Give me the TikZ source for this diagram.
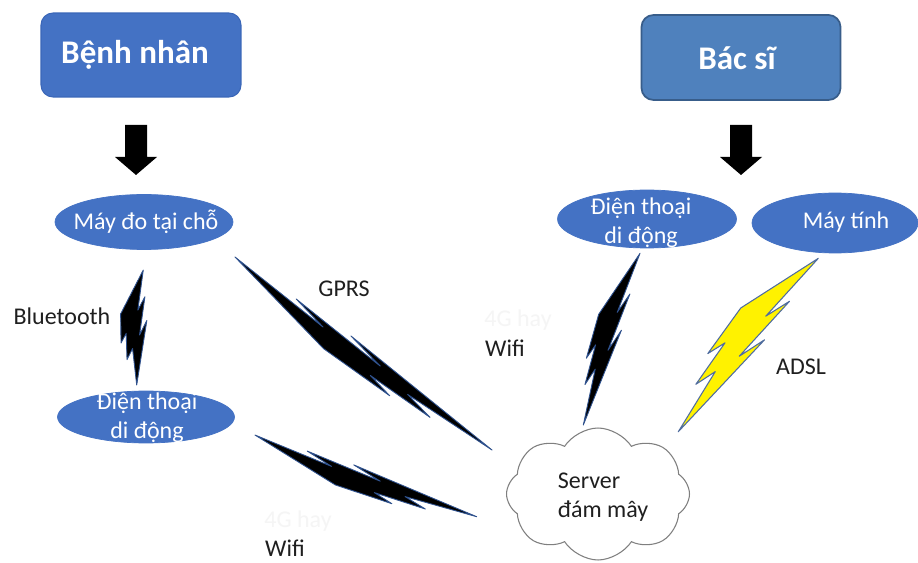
\documentclass[tikz,border=0pt]{standalone}
\usepackage{fontspec}
\setmainfont{Carlito}
\usetikzlibrary{shapes.geometric,shapes.symbols,calc}
\definecolor{accent}{HTML}{4472C4}
\definecolor{accentline}{HTML}{3A66B8}
\definecolor{accenttwo}{HTML}{4F81BD}
\definecolor{accentdk}{HTML}{385D8A}
\definecolor{boltline}{HTML}{2F528F}
\definecolor{cloudline}{HTML}{7F7F7F}
\definecolor{faint}{HTML}{F5F5F5}
\newcommand\lblfont{\fontsize{13.66pt}{16.5pt}\selectfont}
\newcommand\boxfont{\bfseries\fontsize{18.8pt}{22pt}\selectfont}
\newcommand\boltpt[3]{($(#1A)!#2!(#1B)+#3*(#1C)-#3*(#1A)$)}
\newcommand\boltpath[1]{\boltpt{#1}{0.392}{0} -- \boltpt{#1}{0}{0.182} -- \boltpt{#1}{0.35}{0.39} -- \boltpt{#1}{0.231}{0.45} -- \boltpt{#1}{0.565}{0.644} -- \boltpt{#1}{0.436}{0.7} -- \boltpt{#1}{1}{1} -- \boltpt{#1}{0.686}{0.588} -- \boltpt{#1}{0.785}{0.546} -- \boltpt{#1}{0.558}{0.302} -- \boltpt{#1}{0.644}{0.258} -- cycle}
\begin{document}
\begin{tikzpicture}[x=0.02cm,y=-0.02cm,
  ell/.style={ellipse, fill=accent, draw=accent, inner sep=0pt},
  ellt/.style={text=white, font=\lblfont, align=center, inner sep=0pt},
  lab/.style={font=\lblfont, text=black!88, inner sep=0pt},
  faintlab/.style={font=\lblfont, text=faint, inner sep=0pt},
  bbox/.style={rectangle, rounded corners=6.8pt, minimum width=4cm, minimum height=1.68cm, inner sep=0pt},
  boxt/.style={text=white, font=\boxfont, inner sep=0pt},
  darkbolt/.style={fill=black, draw=boltline, line width=0.5pt, line join=round},
  yellowbolt/.style={fill=yellow, draw=boltline!85, line width=0.6pt, line join=round},
  blockarrow/.style={fill=black},
  cloudshape/.style={cloud, cloud puffs=8, cloud puff arc=115, aspect=1.4, draw=cloudline, fill=white, line width=0.6pt, minimum width=3.66cm, minimum height=2.64cm, inner sep=0pt}
]
\fill[white] (0,0) rectangle (918,563);
\useasboundingbox (0,0) rectangle (918,563);

% top boxes
\node[bbox, fill=accent, draw=accentline, line width=0.6pt] (bn) at (141,55) {};
\node[boxt] (bnt) at (135,55) {Bệnh nhân};
\node[bbox, fill=accenttwo, draw=accentdk, line width=1pt, minimum width=3.98cm, minimum height=1.7cm] (bs) at (741,57.5) {};
\node[boxt] (bst) at (737,58) {Bác sĩ};

% block arrows
\coordinate (a1) at (136,125);
\fill[blockarrow] (a1) ++(-11,0) -- ++(22,0) -- ++(0,32) -- ++(10,0) -- ++(-21,18) -- ++(-21,-18) -- ++(10,0) -- cycle;
\coordinate (a2) at (741,125);
\fill[blockarrow] (a2) ++(-11,0) -- ++(22,0) -- ++(0,32) -- ++(10,0) -- ++(-21,18) -- ++(-21,-18) -- ++(10,0) -- cycle;

% lightning bolts
\coordinate (gA) at (230.6,262.8); \coordinate (gB) at (468,482); \coordinate (gC) at (254.6,230.8);
\draw[darkbolt] \boltpath{g};
\coordinate (wA) at (252.6,441.5); \coordinate (wB) at (463.6,552.3); \coordinate (wC) at (265.7,405.9);
\draw[darkbolt] \boltpath{w};
\coordinate (tA) at (136.0,269.6); \coordinate (tB) at (96.8,382.7); \coordinate (tC) at (175.9,271.9);
\draw[darkbolt] \boltpath{t};
\coordinate (rA) at (633.1,251.0); \coordinate (rB) at (545.3,412.4); \coordinate (rC) at (671.1,263.6);
\draw[darkbolt] \boltpath{r};
\coordinate (yA) at (810.1,251.7); \coordinate (yB) at (633.2,395.3); \coordinate (yC) at (855.2,288.1);
\draw[yellowbolt] \boltpath{y};

% ellipses
\node[ell, minimum width=3.56cm, minimum height=1.1cm] (m1) at (144,222) {};
\node[ellt] (m1t) at (146,222) {Máy đo tại chỗ};
\node[ell, minimum width=3.54cm, minimum height=1.04cm] (p1) at (146,417) {};
\node[ellt] (p1t) at (147,418) {Điện thoại\\di động};
\node[ell, minimum width=3.58cm, minimum height=1.16cm] (p2) at (647,219) {};
\node[ellt] (p2t) at (641,223) {Điện thoại\\di động};
\node[ell, minimum width=3.32cm, minimum height=1.2cm] (pc) at (835,223) {};
\node[ellt] (pct) at (846,222) {Máy tính};

% cloud
\node[cloudshape] (srv) at (598,494) {};
\node[lab, align=left] (srvt) at (603,497) {Server\\đám mây};

% labels
\node[lab] (lbt) at (62,316) {Bluetooth};
\node[lab] (lgp) at (344,289) {GPRS};
\node[faintlab] (lf1) at (518,320) {4G hay};
\node[lab] (lw1) at (505,348) {Wifi};
\node[faintlab] (lf2) at (298,521) {4G hay};
\node[lab] (lw2) at (285,548) {Wifi};
\node[lab] (lad) at (801,367) {ADSL};
\end{tikzpicture}
\end{document}
